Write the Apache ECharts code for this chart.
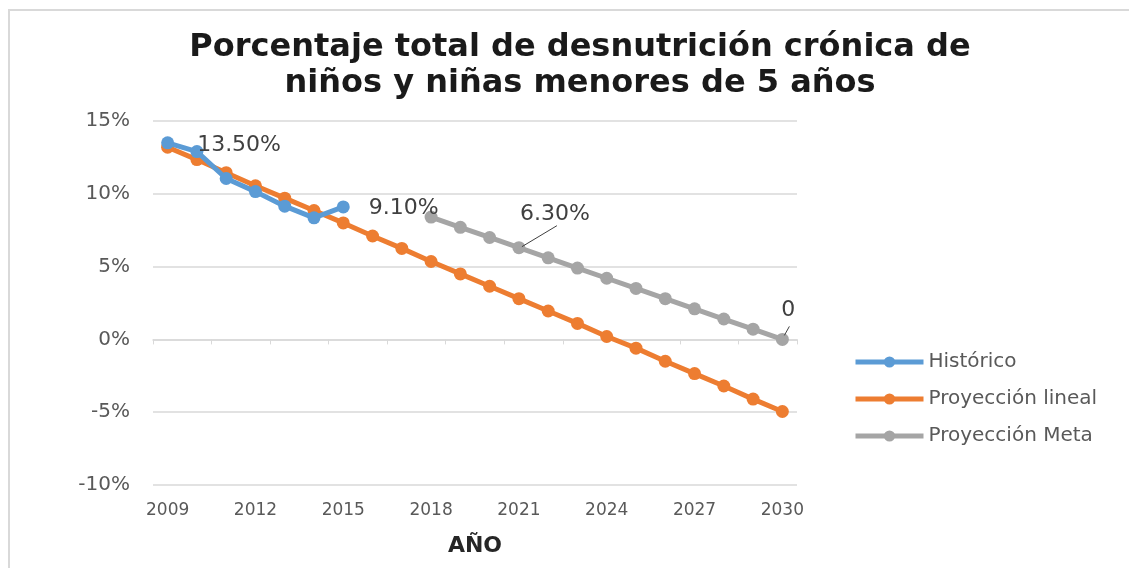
<!DOCTYPE html>
<html><head><meta charset="utf-8">
<script src="https://cdn.jsdelivr.net/npm/echarts@6/dist/echarts.min.js"></script>
<style>html,body{margin:0;padding:0;background:#fff;overflow:hidden}#c{width:1129px;height:568px}</style>
</head><body><div id="c"></div>
<script>
const years = ['2009','2010','2011','2012','2013','2014','2015','2016','2017','2018','2019','2020','2021','2022','2023','2024','2025','2026','2027','2028','2029','2030'];
const historico = [13.5, 12.9, 11.05, 10.15, 9.15, 8.35, 9.1, null, null, null, null, null, null, null, null, null, null, null, null, null, null, null];
const lineal = [13.2, 12.35, 11.45, 10.55, 9.7, 8.85, 8.0, 7.1, 6.25, 5.35, 4.5, 3.65, 2.8, 1.95, 1.1, 0.2, -0.6, -1.5, -2.35, -3.2, -4.1, -4.95];
const meta = [null, null, null, null, null, null, null, null, null, 8.4, 7.7, 7.0, 6.3, 5.6, 4.9, 4.2, 3.5, 2.8, 2.1, 1.4, 0.7, 0];
const yTicks = [-10, -5, 0, 5, 10, 15];
const names = ['Histórico', 'Proyección lineal', 'Proyección Meta'];
const colors = ['#5b9bd5', '#ed7d31', '#a5a5a5'];

const FONT = 'DejaVu Sans';
const chart = echarts.init(document.getElementById('c'), null, {renderer: 'canvas'});
const grid = {left: 153, right: 332, top: 121, bottom: 83};
const lblStyle = {fontFamily: FONT, fontSize: 22, color: '#404040'};

function mkSeries(i, data) {
  return {
    name: names[i], type: 'line', data: data, color: colors[i],
    symbol: 'circle', symbolSize: 13,
    lineStyle: {width: 5, color: colors[i]},
    itemStyle: {color: colors[i]},
    connectNulls: false, z: i === 0 ? 3 : (i === 1 ? 2 : 1),
    label: {show: false},
    emphasis: {disabled: true}
  };
}

const s0 = mkSeries(0, historico);
s0.data = historico.map((v, i) => {
  if (i === 0) return {value: v, label: {show: true, position: 'right', offset: [18, 2], formatter: v.toFixed(2) + '%', ...lblStyle}};
  if (i === 6) return {value: v, label: {show: true, position: 'right', offset: [14, 1], formatter: v.toFixed(2) + '%', ...lblStyle}};
  return v;
});
const s1 = mkSeries(1, lineal);
const s2 = mkSeries(2, meta);
s2.data = meta.map((v, i) => {
  if (i === 12) return {value: v, label: {show: true, position: 'top', distance: 16, offset: [36, 0], formatter: v.toFixed(2) + '%', ...lblStyle}};
  if (i === 21) return {value: v, label: {show: true, position: 'top', distance: 12, offset: [6, 0], formatter: String(v), ...lblStyle}};
  return v;
});

chart.setOption({
  animation: false,
  backgroundColor: '#fff',
  title: {
    text: 'Porcentaje total de desnutrición crónica de\nniños y niñas menores de 5 años',
    left: 575, top: 25, textAlign: 'center',
    textStyle: {fontFamily: FONT, fontWeight: 'bold', fontSize: 32, lineHeight: 36, color: '#1a1a1a'}
  },
  legend: {
    orient: 'vertical', left: 848, top: 347, itemGap: 17, itemWidth: 68, itemHeight: 14,
    data: names,
    lineStyle: {width: 5},
    textStyle: {fontFamily: FONT, fontSize: 20, color: '#595959'}
  },
  grid: grid,
  xAxis: [{
    type: 'category', data: years, boundaryGap: true,
    axisLine: {show: false, onZero: false}, axisTick: {show: false},
    axisLabel: {interval: 2, fontFamily: FONT, fontSize: 17, color: '#595959', margin: 17},
    name: 'AÑO', nameLocation: 'middle', nameGap: 50,
    nameTextStyle: {fontFamily: FONT, fontWeight: 'bold', fontSize: 22, color: '#262626'}
  }, {
    type: 'category', data: years, boundaryGap: true, position: 'bottom',
    axisLine: {show: true, onZero: true, onZeroAxisIndex: 0, lineStyle: {color: '#d9d9d9', width: 1.5}},
    axisTick: {show: true, length: 5, lineStyle: {color: '#d9d9d9'}},
    axisLabel: {show: false}
  }],
  yAxis: {
    type: 'value', min: -10, max: 15, interval: 5,
    axisLine: {show: false}, axisTick: {show: false},
    axisLabel: {formatter: v => yTicks.includes(v) ? v + '%' : '', fontFamily: FONT, fontSize: 20, color: '#595959', margin: 23},
    splitLine: {lineStyle: {color: '#d9d9d9', width: 1.5}}
  },
  series: [s0, s1, s2]
});

function leader(id, dataIdx, dx1, dy1, dx2, dy2) {
  const p = chart.convertToPixel({gridIndex: 0}, [dataIdx, meta[dataIdx]]);
  return {id: id, type: 'line', shape: {x1: p[0] + dx1, y1: p[1] + dy1, x2: p[0] + dx2, y2: p[1] + dy2}, style: {stroke: '#404040', lineWidth: 1}, z: 10};
}
chart.setOption({graphic: [
  {id: 'border', type: 'rect', shape: {x: 9, y: 10, width: 1400, height: 800}, style: {fill: 'none', stroke: '#d9d9d9', lineWidth: 2}, z: -1},
  {id: 'mask', type: 'rect', shape: {x: 1122, y: 12, width: 10, height: 560}, style: {fill: '#fff'}, z: 100},
  leader('l1', 12, 3, -1, 38, -22),
  leader('l2', 21, 2, -4, 7, -13)
]});
</script></body></html>
